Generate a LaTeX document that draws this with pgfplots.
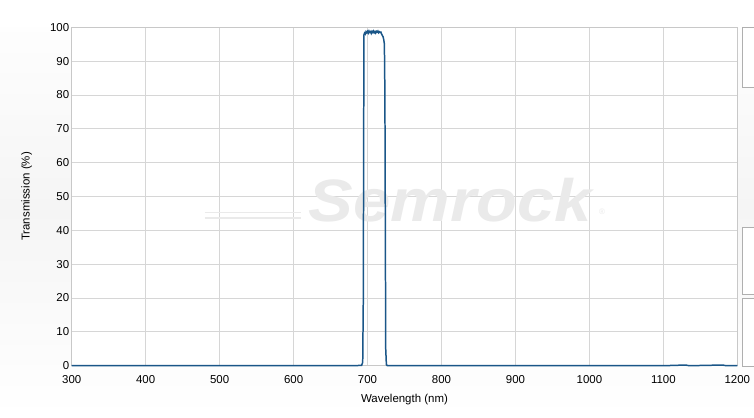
\documentclass[border=0pt]{standalone}
\usepackage{pgfplots}
\pgfplotsset{compat=1.18}
\usepackage{fontspec}
\setmainfont{Liberation Sans}
\definecolor{curve}{RGB}{26,86,136}
\definecolor{gridc}{RGB}{214,214,214}
\definecolor{axc}{RGB}{200,200,200}
\definecolor{wm}{RGB}{234,234,234}
\begin{document}
\begin{tikzpicture}[x=1bp,y=1bp]
\useasboundingbox (-71.7,-51.3) rectangle (682.3,365.7);
\shade[top color=white, bottom color=white, middle color={rgb,255:red,245;green,245;blue,245}] (-71.7,-51.3) rectangle (682.3,365.7);
\fill[white] (-71.7,338.4) rectangle (682.3,365.7);
\begin{axis}[
  at={(0,0)}, anchor=south west,
  scale only axis, width=665.6bp, height=338.4bp,
  xmin=300, xmax=1200, ymin=0, ymax=100,
  xtick={300,400,...,1200}, ytick={0,10,...,100},
  grid=major, major grid style={gridc, line width=0.8pt},
  axis background/.style={fill=white},
  axis line style={axc, line width=0.8pt},
  tick style={draw=none},
  tick label style={font=\fontsize{11.5}{13}\selectfont, text=black},
  /pgf/number format/assume math mode=true,
  /pgf/number format/1000 sep={},
  xticklabel style={anchor=center, yshift=-14bp},
  yticklabel style={anchor=east, xshift=1bp},
  xlabel={Wavelength (nm)}, ylabel={Transmission (\%)},
  label style={font=\fontsize{11.5}{13}\selectfont},
  xlabel style={at={(axis description cs:0.5,0)}, anchor=center, yshift=-34bp},
  ylabel style={at={(axis description cs:0,0.5)}, anchor=center, rotate=0, yshift=45bp},
  clip=false,
]
\node[text=wm, font=\fontsize{60}{60}\bfseries\itshape, xscale=1.12] at (axis cs:812,49) {Semrock};
\node[text=wm, font=\fontsize{8}{8}\selectfont] at (axis cs:1017,45.5) {\textregistered};
\draw[wm, line width=1.5pt] (axis cs:480,45.2) -- (axis cs:610,45.2);
\draw[wm, line width=1.5pt] (axis cs:480,43.6) -- (axis cs:610,43.6);
\addplot[curve, line width=1.5pt] coordinates {
(300,0) (400,0) (500,0) (600,0) (680,0) (692,0.1) (693.5,1) (694.3,20) (694.8,70) (695.2,97.8)
(696,98.3) (697,98.0) (698,98.7) (699,98.4) (700,98.8) (701,98.3) (702,98.9) (703,98.5)
(704,98.7) (705,98.2) (706,98.8) (707,98.5) (708,98.9) (709,98.4) (710,98.7) (711,98.3)
(712,98.8) (713,98.6) (714,98.9) (715,98.4) (716,98.7) (717,98.5) (718,98.6) (719,98.0)
(720,97.6) (721,97.2) (722,96.3) (722.8,95) (723.5,80) (724,45) (724.6,5) (725.5,0.3) (727,0)
(800,0) (900,0) (1000,0) (1100,0) (1130,0.2) (1135,0) (1180,0.2) (1185,0) (1200,0)
};
\end{axis}
\begin{scope}
\clip (-71.7,-51.3) rectangle (682.3,365.7);
\filldraw[draw={rgb,255:red,175;green,175;blue,175}, fill=white] (670,278.7) rectangle (690,338.4);
\filldraw[draw={rgb,255:red,175;green,175;blue,175}, fill=white] (670,71.7) rectangle (690,138.7);
\filldraw[draw={rgb,255:red,175;green,175;blue,175}, fill=white] (670,0) rectangle (690,67.7);
\end{scope}
\end{tikzpicture}
\end{document}
